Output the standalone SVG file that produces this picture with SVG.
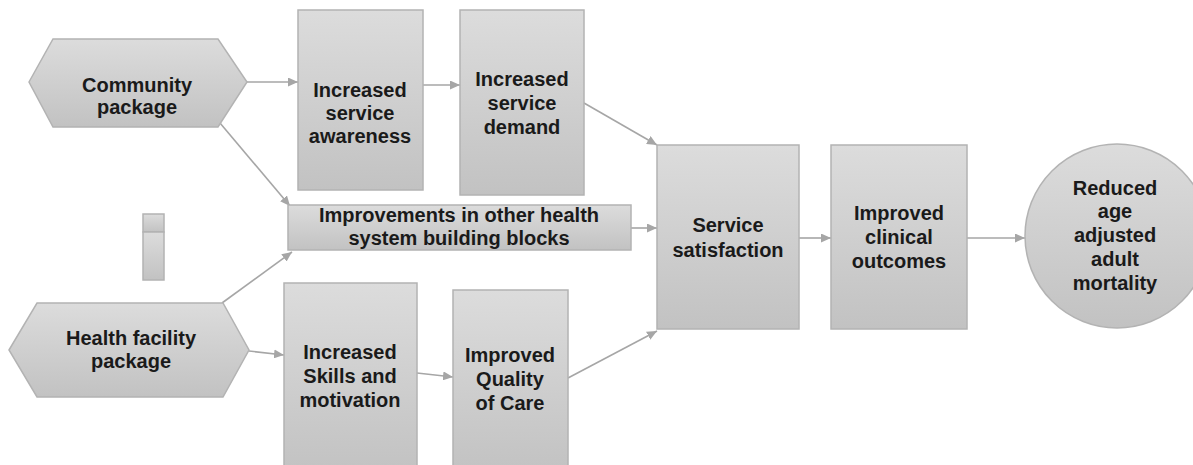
<svg xmlns="http://www.w3.org/2000/svg" width="1193" height="465" viewBox="0 0 1193 465">
<defs>
<linearGradient id="g" x1="0" y1="0" x2="0" y2="1">
<stop offset="0" stop-color="#dcdcdc"/>
<stop offset="1" stop-color="#c2c2c2"/>
</linearGradient>
<marker id="ah" markerUnits="userSpaceOnUse" markerWidth="10" markerHeight="9" viewBox="0 0 10 9" refX="10" refY="4.5" orient="auto">
<path d="M0,0 L10,4.5 L0,9 Z" fill="#a6a6a6"/>
</marker>
<style>
.n{fill:url(#g);stroke:#b3b3b3;stroke-width:1.5}
.t{font-family:"Liberation Sans",Arial,sans-serif;font-weight:bold;font-size:20px;fill:#1a1a1a;text-anchor:middle}
.c{fill:none;stroke:#a6a6a6;stroke-width:1.6;marker-end:url(#ah)}
</style>
</defs>
<rect width="1193" height="465" fill="#ffffff"/>
<g id="connectors">
<line class="c" x1="247" y1="82" x2="298" y2="82"/>
<line class="c" x1="423" y1="85" x2="460" y2="85"/>
<line class="c" x1="584" y1="103" x2="657" y2="145"/>
<line class="c" x1="220" y1="123" x2="290" y2="206"/>
<line class="c" x1="222" y1="303" x2="292" y2="252"/>
<line class="c" x1="249" y1="351" x2="284" y2="355"/>
<line class="c" x1="417" y1="373" x2="453" y2="377"/>
<line class="c" x1="568" y1="378" x2="657" y2="331"/>
<line class="c" x1="631" y1="228" x2="657" y2="228"/>
<line class="c" x1="799" y1="238" x2="831" y2="238"/>
<line class="c" x1="967" y1="238" x2="1025" y2="238"/>
</g>
<g id="community">
<polygon class="n" points="29,82 53,39 218,39 247,82 218,127 53,127"/>
<text class="t" x="137" y="92">Community</text>
<text class="t" x="137" y="114">package</text>
</g>
<g id="health">
<polygon class="n" points="9,350 37,303 223,303 249,350 223,397 37,397"/>
<text class="t" x="131" y="345">Health facility</text>
<text class="t" x="131" y="368">package</text>
</g>
<g id="legend">
<rect class="n" x="143" y="214" width="21" height="18"/>
<rect class="n" x="143" y="232" width="21" height="48"/>
</g>
<g id="awareness">
<rect class="n" x="298" y="10" width="125" height="180"/>
<text class="t" x="360" y="97">Increased</text>
<text class="t" x="360" y="120">service</text>
<text class="t" x="360" y="143">awareness</text>
</g>
<g id="demand">
<rect class="n" x="460" y="10" width="124" height="185"/>
<text class="t" x="522" y="86">Increased</text>
<text class="t" x="522" y="110">service</text>
<text class="t" x="522" y="134">demand</text>
</g>
<g id="improvements">
<rect class="n" x="288" y="205" width="343" height="45"/>
<text class="t" x="459" y="222">Improvements in other health</text>
<text class="t" x="459" y="245">system building blocks</text>
</g>
<g id="skills">
<rect class="n" x="284" y="283" width="133" height="190"/>
<text class="t" x="350" y="359">Increased</text>
<text class="t" x="350" y="383">Skills and</text>
<text class="t" x="350" y="407">motivation</text>
</g>
<g id="quality">
<rect class="n" x="453" y="290" width="115" height="183"/>
<text class="t" x="510" y="362">Improved</text>
<text class="t" x="510" y="386">Quality</text>
<text class="t" x="510" y="410">of Care</text>
</g>
<g id="satisfaction">
<rect class="n" x="657" y="145" width="142" height="184"/>
<text class="t" x="728" y="232">Service</text>
<text class="t" x="728" y="257">satisfaction</text>
</g>
<g id="clinical">
<rect class="n" x="831" y="145" width="136" height="184"/>
<text class="t" x="899" y="220">Improved</text>
<text class="t" x="899" y="244">clinical</text>
<text class="t" x="899" y="268">outcomes</text>
</g>
<g id="mortality">
<circle class="n" cx="1117" cy="236" r="92"/>
<text class="t" x="1115" y="195">Reduced</text>
<text class="t" x="1115" y="218">age</text>
<text class="t" x="1115" y="242">adjusted</text>
<text class="t" x="1115" y="266">adult</text>
<text class="t" x="1115" y="290">mortality</text>
</g>
</svg>
